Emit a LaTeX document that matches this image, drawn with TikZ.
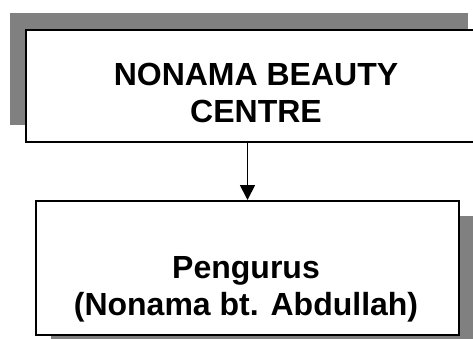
\documentclass[tikz,border=0pt]{standalone}
\usepackage{fontspec}
\setmainfont{Liberation Sans}
\usetikzlibrary{arrows.meta}
\definecolor{shadegray}{RGB}{128,128,128}
\begin{document}
\begin{tikzpicture}[x=1pt,y=-1pt,
  box/.style={draw=black, line width=2pt, fill=white, rectangle, inner sep=0pt, anchor=north west},
  shadowbox/.style={fill=shadegray},
  txt/.style={font=\fontsize{32}{37}\selectfont\bfseries, inner sep=0pt, anchor=base},
  conn/.style={line width=1.8pt, -{Triangle[width=15pt,length=15pt]}}]
\useasboundingbox (0,0) rectangle (473,338);
\begin{scope}
\clip (0,0) rectangle (473,338);
\fill[shadowbox] (10,13) rectangle (468,125);
\node[box, minimum width=458pt, minimum height=112pt] (top) at (25,29) {};
\fill[shadowbox] (51,216) rectangle (473,350);
\node[box, minimum width=423pt, minimum height=134pt] (bot) at (35,200) {};
\end{scope}
\node[txt] (t1) at (256,85) {NONAMA BEAUTY};
\node[txt] (t2) at (256,122) {CENTRE};
\node[txt] (b1) at (246,278) {Pengurus};
\node[txt] (b2) at (246,315) {(Nonama bt. Abdullah)};
\draw[conn] (bot.north |- top.south) -- (bot.north);
\end{tikzpicture}
\end{document}
